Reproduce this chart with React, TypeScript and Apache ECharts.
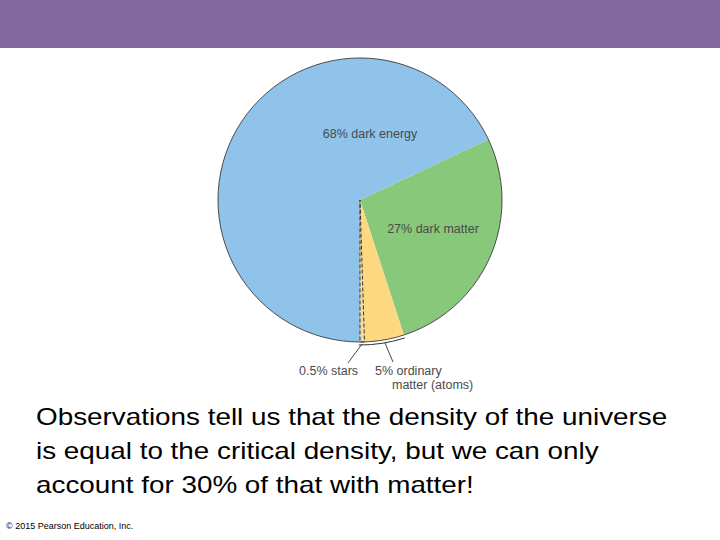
import React, { useEffect, useRef } from "react";
import * as echarts from "echarts";

const categories = ["dark energy", "dark matter", "ordinary matter (atoms)", "stars"];
const values = [68, 27, 4.5, 0.5];
const labelTexts = ["68% dark energy", "27% dark matter", "{a|5% ordinary}\n{b|matter (atoms)}", "0.5% stars"];
const sliceColors = ["#8fc3ea", "#88c87a", "#fdd880", "#eedda6"];
const paragraph = [
  "Observations tell us that the density of the universe",
  "is equal to the critical density, but we can only",
  "account for 30% of that with matter!",
];
const copyright = "© 2015 Pearson Education, Inc.";

const CX = 360;
const CY = 200;
const R = 142;

// label placements (layout, not data)
const labelPlacement = [
  { x: 370, y: 134, align: "center", va: "middle" },
  { x: 433, y: 229, align: "center", va: "middle" },
  { x: 375, y: 364, align: "left", va: "top" },
  { x: 299, y: 371, align: "left", va: "middle" },
];
const leaderLines = [
  [385, 343, 393, 362],
  [362, 344, 348, 363],
];

export default function App() {
  const ref = useRef<HTMLDivElement>(null);
  useEffect(() => {
    if (!ref.current) return;
    const chart = echarts.init(ref.current, null, { renderer: "svg" });
    const font = "'Liberation Sans', Arial, Helvetica, sans-serif";
    const fs = 12.5;
    const data = categories.map((name, i) => {
      const outside = i >= 2;
      return {
        name,
        value: values[i],
        itemStyle:
          i === 3
            ? { color: sliceColors[i], borderColor: "#333", borderWidth: 1, borderType: "dashed" as const }
            : { color: sliceColors[i], borderWidth: 0 },
        label: {
          show: true,
          position: outside ? "outside" : "inside",
          formatter: labelTexts[i],
          color: "#4a4a4a",
          fontSize: fs,
          fontFamily: font,
          lineHeight: 14,
          rich: {
            a: { color: "#4a4a4a", fontSize: fs, fontFamily: font, lineHeight: 14 },
            b: { color: "#4a4a4a", fontSize: fs, fontFamily: font, lineHeight: 14, padding: [0, 0, 0, 17] },
          },
        },
        labelLine: { show: false },
      };
    });
    chart.setOption({
      animation: false,
      backgroundColor: "#ffffff",
      series: [
        {
          type: "pie",
          center: [CX, CY],
          radius: R,
          startAngle: 270,
          clockwise: true,
          silent: true,
          avoidLabelOverlap: false,
          data,
          labelLayout: (params: any) => {
            const p = labelPlacement[params.dataIndex];
            return { x: p.x, y: p.y, align: p.align, verticalAlign: p.va };
          },
        },
      ],
      graphic: [
        { type: "rect", shape: { x: 0, y: 0, width: 720, height: 48 }, style: { fill: "#84679e" }, silent: true },
        {
          type: "circle",
          shape: { cx: CX, cy: CY, r: R },
          style: { fill: "none", stroke: "#3a3a3a", lineWidth: 0.9 },
          silent: true,
          z: 10,
        },
        {
          type: "arc",
          shape: { cx: CX, cy: CY, r: R + 3, startAngle: (72 * Math.PI) / 180, endAngle: (90.5 * Math.PI) / 180 },
          style: { fill: "none", stroke: "#333", lineWidth: 1 },
          silent: true,
          z: 10,
        },
        ...leaderLines.map((l) => ({
          type: "line",
          shape: { x1: l[0], y1: l[1], x2: l[2], y2: l[3] },
          style: { stroke: "#333", lineWidth: 0.9 },
          silent: true,
          z: 10,
        })),
        ...paragraph.map((t, i) => ({
          type: "text",
          x: 36,
          y: 405 + i * 34,
          scaleX: 1.16,
          style: { text: t, fill: "#000", font: `24px ${font}`, textVerticalAlign: "top" },
          silent: true,
        })),
        {
          type: "text",
          left: 6,
          top: 521,
          style: { text: copyright, fill: "#000", font: `9px ${font}` },
          silent: true,
        },
      ],
    });
    return () => chart.dispose();
  }, []);
  return <div ref={ref} style={{ position: "fixed", left: 0, top: 0, width: 720, height: 540 }} />;
}
